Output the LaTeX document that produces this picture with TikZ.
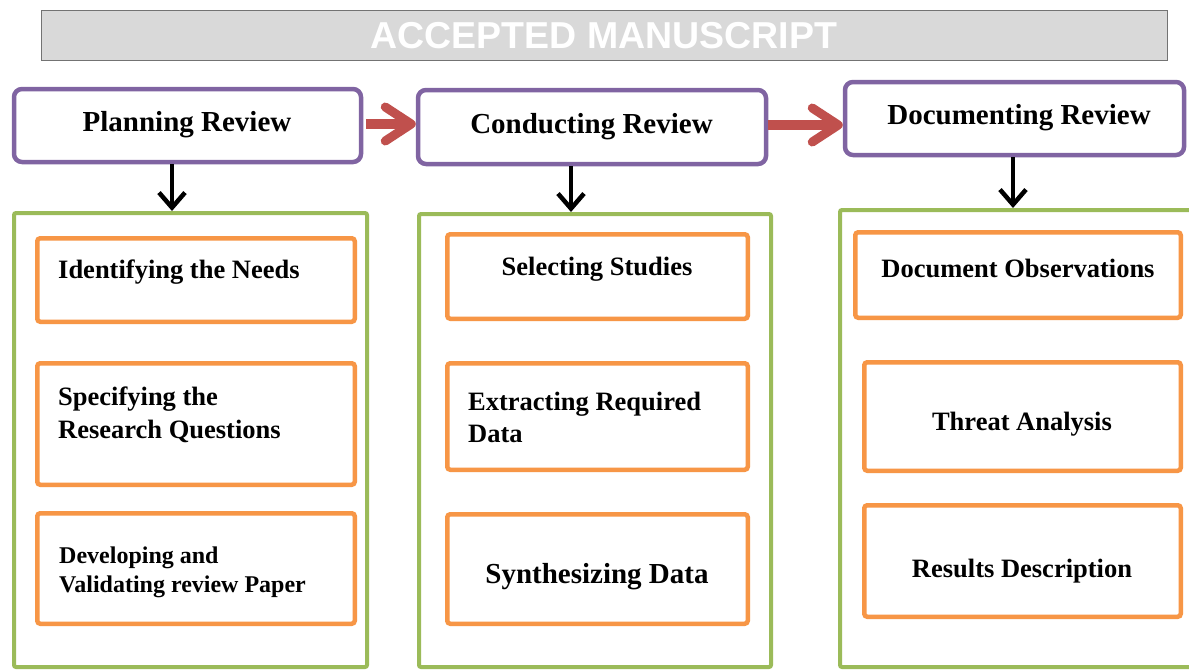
\documentclass[tikz,border=0pt]{standalone}
\usepackage{fontspec}
\setmainfont{Liberation Serif}
\newfontfamily\bannerfont{Liberation Sans}
\usetikzlibrary{arrows.meta}
\definecolor{hdrpurple}{HTML}{8064A2}
\definecolor{grpgreen}{HTML}{9BBB59}
\definecolor{itemorange}{HTML}{F79646}
\definecolor{arrowred}{HTML}{C0504D}
\definecolor{bannergray}{HTML}{D9D9D9}
\newcommand{\twoln}[2]{\vtop{\hbox{#1}\hbox{#2}}}
\begin{document}
\begin{tikzpicture}[x=1pt,y=-1pt,
  hdr/.style={draw=hdrpurple, line width=4.5pt, rounded corners=8pt, fill=white, inner sep=0pt},
  grp/.style={draw=grpgreen, line width=4pt, rounded corners=2pt, fill=white, inner sep=0pt},
  item/.style={draw=itemorange, line width=4.5pt, rounded corners=3pt, fill=white, inner sep=0pt},
  banner/.style={draw=black!55, line width=1pt, fill=bannergray, inner sep=0pt},
  hdrtext/.style={font=\fontsize{29}{33}\selectfont\bfseries, inner sep=0pt, anchor=base},
  itemtext/.style={font=\fontsize{26.5}{33}\selectfont\bfseries, inner sep=0pt},
  redarrow/.style={draw=arrowred, line width=10pt, -{Straight Barb[length=26pt,width=34pt,line width=9pt,round]}},
  blkarrow/.style={draw=black, line width=3.5pt, -{Straight Barb[length=15pt,width=26pt,line width=4.5pt]}},
]
\useasboundingbox (0,0) rectangle (1189,670);
\clip (0,0) rectangle (1189,670);

% banner
\node[banner, minimum width=1126, minimum height=50] (ban) at (604,35) {};
\node[inner sep=0pt, anchor=base, text=white, font=\bannerfont\fontsize{37.5}{40}\selectfont\bfseries] (bantext) at (604,48) {ACCEPTED MANUSCRIPT};

% group containers
\node[grp, minimum width=353, minimum height=454] (planc) at (190.5,440) {};
\node[grp, minimum width=352, minimum height=453] (condc) at (595,440.5) {};
\node[grp, minimum width=368, minimum height=457] (docc) at (1024,438.5) {};

% header boxes
\node[hdr, minimum width=347, minimum height=73] (plan) at (187.5,125.5) {};
\node[hdr, minimum width=348, minimum height=74] (cond) at (592,127) {};
\node[hdr, minimum width=339, minimum height=73] (doc) at (1014.5,118.5) {};
\node[hdrtext] (plant) at (187,131) {Planning Review};
\node[hdrtext] (condt) at (591.5,133) {Conducting Review};
\node[hdrtext] (doct) at (1019,124) {Documenting Review};

% red arrows
\draw[redarrow] ([xshift=3pt,yshift=1.5pt]plan.east) -- ([yshift=3pt]cond.west);
\draw[redarrow] ([yshift=2pt]cond.east) -- ([yshift=-6.5pt]doc.west);

% black arrows
\coordinate (pa) at ([xshift=-15.5pt]plan.south);
\coordinate (ca) at ([xshift=-21pt]cond.south);
\coordinate (da) at ([xshift=-1.5pt]doc.south);
\draw[blkarrow] (pa) -- (pa |- planc.north);
\draw[blkarrow] (ca) -- (ca |- condc.north);
\draw[blkarrow] (da) -- (da |- docc.north);

% planning items
\node[item, minimum width=317.5, minimum height=83.5] (i1) at (196,280) {};
\node[item, minimum width=317.5, minimum height=121.5] (i2) at (196,424) {};
\node[item, minimum width=317.5, minimum height=110.5] (i3) at (196,568.5) {};
\node[itemtext, anchor=base west] (i1t) at (58,278) {Identifying the Needs};
\node[itemtext, anchor=base west] (i2t) at (58,405) {\twoln{Specifying the}{Research Questions}};
\node[itemtext, anchor=base west, font=\fontsize{24}{29}\selectfont\bfseries] (i3t) at (59,563) {\twoln{Developing and}{Validating review Paper}};

% conducting items
\node[item, minimum width=300.5, minimum height=84.5] (c1) at (597.5,276.5) {};
\node[item, minimum width=300.5, minimum height=106.5] (c2) at (597.5,416.5) {};
\node[item, minimum width=300.5, minimum height=109.5] (c3) at (597.5,569) {};
\node[itemtext, anchor=base] (c1t) at (597,275) {Selecting Studies};
\node[itemtext, anchor=base west, font=\fontsize{26.5}{32}\selectfont\bfseries] (c2t) at (468,410) {\twoln{Extracting Required}{Data}};
\node[itemtext, anchor=base, font=\fontsize{29}{33}\selectfont\bfseries] (c3t) at (597,583) {Synthesizing Data};

% documenting items
\node[item, minimum width=325.5, minimum height=85.5] (d1) at (1018,275) {};
\node[item, minimum width=316.5, minimum height=108.5] (d2) at (1022.5,416.5) {};
\node[item, minimum width=316.5, minimum height=111.5] (d3) at (1022.5,561) {};
\node[itemtext, anchor=base] (d1t) at (1018,277) {Document Observations};
\node[itemtext, anchor=base] (d2t) at (1022,430) {Threat Analysis};
\node[itemtext, anchor=base] (d3t) at (1022,577) {Results Description};
\end{tikzpicture}
\end{document}
